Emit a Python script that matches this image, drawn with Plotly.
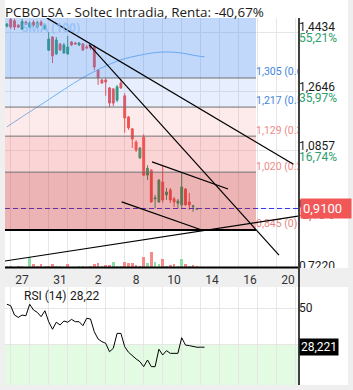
import plotly.graph_objects as go

W, H = 353, 390

title_text = "PCBOLSA - Soltec Intradia, Renta: -40,67%"

# x axis (bar index) labels
x_tick_pos = [4, 14, 24, 34, 44, 54, 64, 74]
x_tick_labels = ["27", "31", "2", "8", "10", "14", "16", "20"]

# OHLC per bar
opens = [1.462, 1.482, 1.478, 1.465, 1.453, 1.474, 1.459, 1.474, 1.459, 1.474,
         1.453, 1.389, 1.429, 1.378, 1.408, 1.381, 1.378, 1.414, 1.411, 1.405,
         1.408, 1.399, 1.402, 1.399, 1.329, 1.299, 1.299, 1.275, 1.272, 1.238,
         1.290, 1.251, 1.187, 1.151, 1.111, 1.063, 1.126, 1.011, 1.026, 0.939,
         0.930, 0.990, 0.951, 0.966, 0.939, 0.926, 0.921, 0.969, 0.930, 0.915,
         0.908]
highs = [1.472, 1.487, 1.484, 1.468, 1.484, 1.478, 1.476, 1.480, 1.478, 1.480,
         1.468, 1.444, 1.432, 1.429, 1.411, 1.411, 1.432, 1.417, 1.414, 1.414,
         1.411, 1.405, 1.405, 1.405, 1.332, 1.302, 1.305, 1.278, 1.275, 1.284,
         1.302, 1.259, 1.190, 1.154, 1.117, 1.096, 1.135, 1.041, 1.029, 0.951,
         0.999, 1.042, 0.972, 0.972, 0.945, 0.939, 1.020, 0.972, 0.957, 0.921,
         0.912]
lows = [1.458, 1.453, 1.450, 1.456, 1.450, 1.465, 1.456, 1.460, 1.456, 1.462,
        1.450, 1.387, 1.350, 1.375, 1.387, 1.378, 1.375, 1.402, 1.405, 1.402,
        1.387, 1.393, 1.390, 1.329, 1.284, 1.287, 1.251, 1.217, 1.220, 1.232,
        1.272, 1.139, 1.148, 1.093, 1.081, 1.060, 1.008, 0.996, 0.927, 0.911,
        0.927, 0.927, 0.936, 0.927, 0.915, 0.912, 0.912, 0.918, 0.906, 0.900,
        0.905]
closes = [1.468, 1.459, 1.459, 1.459, 1.476, 1.468, 1.471, 1.465, 1.472, 1.465,
          1.465, 1.423, 1.372, 1.420, 1.390, 1.405, 1.399, 1.405, 1.408, 1.411,
          1.390, 1.396, 1.396, 1.338, 1.305, 1.290, 1.293, 1.229, 1.229, 1.278,
          1.275, 1.184, 1.154, 1.120, 1.087, 1.093, 1.011, 1.032, 0.930, 0.942,
          0.996, 0.936, 0.960, 0.936, 0.930, 0.933, 0.975, 0.921, 0.921, 0.918,
          0.910]

volumes = [5, 5, 0, 5, 5, 0, 33, 10, 6, 11,
           4, 6, 11, 4, 4, 0, 11, 0, 0, 4,
           4, 0, 6, 11, 14, 6, 9, 9, 18, 6,
           4, 17, 14, 14, 9, 6, 33, 15, 48, 18,
           12, 27, 4, 9, 12, 4, 27, 12, 4, 9,
           4]
vol_up = [1, 0, 0, 0, 1, 0, 1, 0, 0, 0,
          1, 0, 0, 1, 1, 0, 0, 0, 0, 1,
          1, 0, 0, 0, 0, 1, 0, 0, 1, 1,
          1, 0, 0, 0, 0, 0, 0, 1, 0, 1,
          1, 0, 1, 0, 0, 1, 1, 0, 1, 0,
          0]

sma_x = [0, 5, 10, 15, 20, 25, 30, 35, 40, 45, 50, 52]
sma_vals = [1.157, 1.195, 1.232, 1.270, 1.306, 1.336, 1.360, 1.374, 1.383, 1.382, 1.372, 1.369]

rsi_vals = [52.1, 51.3, 46.1, 44.8, 46.1, 45.7, 52.1, 48.9, 47.6, 45.2,
            48.5, 42.4, 38.2, 42.1, 40.6, 42.8, 42.1, 43.7, 42.4, 42.4,
            40.2, 44.3, 43.9, 36.8, 32.8, 31.3, 30.4, 25.7, 27.6, 35.9,
            35.9, 28.5, 25.4, 23.3, 21.7, 20.2, 17.4, 21.1, 17.4, 17.4,
            27.1, 23.9, 26.3, 24.8, 24.8, 24.8, 33.5, 29.4, 29.1, 28.5,
            28.2, 28.22, 28.22]
rsi_last = 28.221

fib_levels = [1.305, 1.217, 1.129, 1.020, 0.845]
fib_ratios = ["0.618", "0.5", "0.382", "0.236", "0"]
price_ticks = [1.4434, 1.2646, 1.0857, 0.9100, 0.7220]
pct_labels = ["55,21%", "35,97%", "16,74%", "-2,15%", "-22,37%"]

# trend lines: start (bar, price) -> end (bar, price)
tl_x0 = [10.5, 21.6, 38.2, 30.2, -0.5]
tl_y0 = [1.487, 1.406, 1.051, 0.930, 0.751]
tl_x1 = [75.4, 71.6, 58.2, 51.3, 76.6]
tl_y1 = [1.044, 0.769, 0.969, 0.845, 0.887]

# ---------------- styling / layout ----------------
GREEN = "#2a9d6a"
RED = "#f05454"
GRID = "#e6e6e6"
XR = [-0.5, 76.605]
YR = [0.722, 1.4866]
RSI_R = [7.2, 61.7]
band_end = 65.55
FIB_COL = ["#3f86e0", "#3f86e0", "#f08a8a", "#f08a8a", "#e98585"]


def px_x(p):
    return p / W


def px_y(p):
    return 1 - p / H


def fmt(v, d=4):
    return f"{v:.{d}f}".replace(".", ",")


n = len(opens)
xs = list(range(n))

fig = go.Figure()

fig.add_trace(go.Candlestick(
    x=xs, open=opens, high=highs, low=lows, close=closes,
    increasing=dict(line=dict(color=GREEN, width=1), fillcolor=GREEN),
    decreasing=dict(line=dict(color=RED, width=1), fillcolor=RED),
    whiskerwidth=0, showlegend=False, hoverinfo="skip",
    xaxis="x", yaxis="y"))

fig.add_trace(go.Bar(
    x=xs, y=volumes, width=0.7,
    marker=dict(color=["#8fdcab" if u else "#f78b8b" for u in vol_up], line=dict(width=0)),
    showlegend=False, hoverinfo="skip", xaxis="x", yaxis="y3"))

fig.add_trace(go.Scatter(
    x=sma_x, y=sma_vals, mode="lines", line=dict(color="#78b9f2", width=1, shape="spline"),
    showlegend=False, hoverinfo="skip", xaxis="x", yaxis="y"))

fig.add_trace(go.Scatter(
    x=XR, y=[closes[-1]] * 2, mode="lines",
    line=dict(color="#3535e0", width=1, dash="5px,3px"),
    showlegend=False, hoverinfo="skip", xaxis="x", yaxis="y"))

fig.add_trace(go.Scatter(
    x=[band_end] * len(fib_levels), y=fib_levels, mode="text",
    text=[f"{fmt(l, 3)} ({r})" for l, r in zip(fib_levels, fib_ratios)],
    textposition="top right", cliponaxis=True,
    textfont=dict(color=FIB_COL, size=10.5, family="Roboto"),
    showlegend=False, hoverinfo="skip", xaxis="x", yaxis="y"))

# invisible trace to carry the percentage axis
fig.add_trace(go.Scatter(
    x=[XR[0]], y=[YR[0]], mode="markers", marker=dict(opacity=0),
    showlegend=False, hoverinfo="skip", xaxis="x", yaxis="y4"))

fig.add_trace(go.Scatter(
    x=list(range(len(rsi_vals))), y=rsi_vals, mode="lines",
    line=dict(color="black", width=1),
    showlegend=False, hoverinfo="skip", xaxis="x2", yaxis="y2"))

shapes = []
# white panels
shapes.append(dict(type="rect", xref="paper", yref="paper", x0=px_x(5), x1=px_x(348),
                   y0=px_y(268), y1=1, fillcolor="white", line=dict(width=0), layer="below"))
shapes.append(dict(type="rect", xref="paper", yref="paper", x0=px_x(5), x1=px_x(348),
                   y0=px_y(385), y1=px_y(287), fillcolor="white", line=dict(width=0), layer="below"))
# RSI oversold zone
shapes.append(dict(type="rect", xref="x2 domain", yref="y2", x0=0, x1=1, y0=RSI_R[0], y1=30,
                   fillcolor="#e3fbe3", line=dict(width=0), layer="below"))

# fibonacci bands (translucent, above)
band_cols = ["rgba(66,133,244,0.32)", "rgba(66,133,244,0.13)", "rgba(240,80,80,0.12)",
             "rgba(240,80,80,0.24)", "rgba(200,40,40,0.35)"]
band_tops = [YR[1]] + fib_levels[:-1]
for top, bot, c in zip(band_tops, fib_levels, band_cols):
    shapes.append(dict(type="rect", xref="x", yref="y", x0=XR[0], x1=band_end, y0=bot, y1=top,
                       fillcolor=c, line=dict(width=0), layer="above"))
for i, lvl in enumerate(fib_levels):
    last = i == len(fib_levels) - 1
    shapes.append(dict(type="line", xref="x", yref="y", x0=XR[0], x1=band_end, y0=lvl, y1=lvl,
                       line=dict(color="black" if last else "#707070", width=2 if last else 1),
                       layer="above"))
# trend lines
for a, b, c, d in zip(tl_x0, tl_y0, tl_x1, tl_y1):
    shapes.append(dict(type="line", xref="x", yref="y", x0=a, y0=b, x1=c, y1=d,
                       line=dict(color="black", width=1.2), layer="above"))
# strip between panels
shapes.append(dict(type="rect", xref="paper", yref="paper", x0=0, x1=1, y0=px_y(271), y1=px_y(268),
                   fillcolor="#efefef", line=dict(width=0), layer="above"))
shapes.append(dict(type="rect", xref="paper", yref="paper", x0=px_x(298.5), x1=1, y0=px_y(287),
                   y1=px_y(268), fillcolor="#efefef", line=dict(width=0), layer="above"))
# axis lines
shapes.append(dict(type="line", xref="paper", yref="paper", x0=px_x(299), x1=px_x(299),
                   y0=px_y(385), y1=px_y(18), line=dict(color="black", width=1.5), layer="above"))
shapes.append(dict(type="line", xref="paper", yref="paper", x0=px_x(5), x1=px_x(298),
                   y0=px_y(267.5), y1=px_y(267.5), line=dict(color="black", width=2), layer="above"))

annotations = [
    dict(x=px_x(3), y=px_y(12), xref="paper", yref="paper", xanchor="left", yanchor="middle",
         text=title_text, showarrow=False,
         font=dict(family="Open Sans", size=13.4, color="#1a1a1a")),
    dict(x=px_x(20), y=px_y(28), xref="paper", yref="paper", xanchor="left", yanchor="middle",
         text="<b>SMA (100)</b>", showarrow=False,
         font=dict(family="Open Sans", size=12, color="rgba(140,190,245,0.75)")),
    dict(x=px_x(22), y=px_y(296), xref="paper", yref="paper", xanchor="left", yanchor="middle",
         text="RSI (14)", showarrow=False, font=dict(family="Roboto", size=12, color="#1a1a1a")),
    dict(x=px_x(68), y=px_y(296), xref="paper", yref="paper", xanchor="left", yanchor="middle",
         text=fmt(rsi_last, 2), showarrow=False, font=dict(family="Roboto", size=12, color="#1a1a1a")),
    dict(x=px_x(300), y=closes[-1], xref="paper", yref="y", xanchor="left", yanchor="middle",
         text=fmt(closes[-1]), showarrow=False, bgcolor="#f25757", width=46, align="left",
         borderpad=2, font=dict(family="Roboto", size=13, color="white")),
    dict(x=px_x(298.5), y=rsi_last, xref="paper", yref="y2", xanchor="left", yanchor="middle",
         text=fmt(rsi_last, 3), showarrow=False, bgcolor="black", borderpad=1,
         font=dict(family="Roboto", size=12, color="white")),
]

grid_x = list(range(1, 77, 5))
pct_text = [f"<span style='color:{'#2e9e6e' if not p.startswith('-') else '#e05555'}'>{p}</span>"
            for p in pct_labels]

fig.update_layout(
    width=W, height=H, autosize=False,
    margin=dict(l=0, r=0, t=0, b=0, pad=0, autoexpand=False),
    paper_bgcolor="#efefef", plot_bgcolor="white",
    font=dict(family="Roboto", size=12, color="#222"),
    showlegend=False, bargap=0,
    xaxis=dict(domain=[px_x(5), px_x(298)], range=XR, anchor="y",
               tickmode="array", tickvals=x_tick_pos, ticktext=x_tick_labels,
               showgrid=False, zeroline=False, showline=False, ticks="",
               tickfont=dict(size=12, color="#333"),
               minor=dict(tickmode="array", tickvals=grid_x, showgrid=True, gridcolor=GRID,
                          gridwidth=1, ticks=""),
               rangeslider=dict(visible=False)),
    yaxis=dict(domain=[px_y(270.6), px_y(18)], range=YR, anchor="x", side="right",
               tickmode="array", tickvals=price_ticks, ticktext=[fmt(v) for v in price_ticks],
               ticklabelshift=-5, showgrid=True, gridcolor=GRID, zeroline=False, ticks="",
               tickfont=dict(size=12, color="#1a1a1a")),
    yaxis4=dict(overlaying="y", range=YR, anchor="x", side="right",
                tickmode="array", tickvals=price_ticks, ticktext=pct_text,
                ticklabelshift=6, showgrid=False, zeroline=False, ticks="",
                tickfont=dict(size=12)),
    yaxis3=dict(overlaying="y", range=[-9.3, 748.5], visible=False),
    xaxis2=dict(domain=[px_x(5), px_x(298)], range=XR, anchor="y2",
                showticklabels=False, showgrid=False, zeroline=False, ticks="",
                minor=dict(tickmode="array", tickvals=grid_x, showgrid=True, gridcolor=GRID,
                           gridwidth=1, ticks="")),
    yaxis2=dict(domain=[px_y(385), px_y(287)], range=RSI_R, anchor="x2", side="right",
                tickmode="array", tickvals=[50, 30],
                ticktext=["50", "<span style='color:#2e9e6e'>30</span>"],
                showgrid=True, gridcolor=GRID, zeroline=False, ticks="",
                tickfont=dict(size=12, color="#1a1a1a")),
    shapes=shapes, annotations=annotations,
)

fig.write_html("out.html", config={"responsive": False})
